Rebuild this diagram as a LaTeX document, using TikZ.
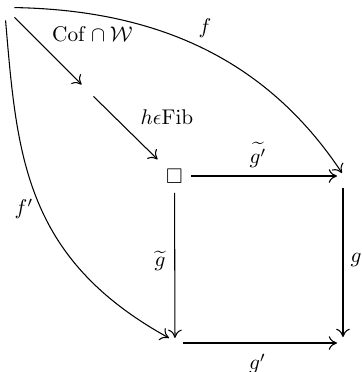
\documentclass[tikz,border=0pt]{standalone}
\usepackage{amsmath,amssymb}
\usetikzlibrary{arrows.meta,calc}
\begin{document}
\begin{tikzpicture}[x=0.47pt,y=-0.47pt,
  arr/.style={line width=0.5pt,-{Computer Modern Rightarrow[length=3.9pt,width=6.4pt]}},
  lbl/.style={inner sep=0pt}]
\useasboundingbox (0,0) rectangle (361,372);
% objects
\node[inner sep=0pt,minimum width=3.76pt,minimum height=5.64pt] (A) at (10,14) {};
\node[inner sep=0pt,minimum size=5.17pt] (M) at (87.5,90.5) {};
\node[inner sep=0pt,minimum size=15.5pt] (S) at (174.5,176) {$\square$};
\coordinate (B) at (343,176);
\coordinate (C) at (175,343);
\coordinate (D) at (343,343);
% diagonal
\draw[arr] (A.-37) -- (M);
\draw[arr] (M) -- (S);
% square
\draw[arr,shorten >=2.8pt] (S) -- (B);
\draw[arr,shorten >=2.4pt] (S) -- (C);
\draw[arr,shorten <=5.6pt,shorten >=2.8pt] (B) -- (D);
\draw[arr,shorten <=3.8pt,shorten >=2.8pt] (C) -- (D);
% curves
\draw[arr] (A.north east) .. controls (154,10) and (265,57) .. ($(B)+(-1,-3)$);
\draw[arr] (A.south west) .. controls (17,155) and (24,258) .. ($(C)+(-6,-5)$);
% labels
\node[lbl] (lcof) at (92.5,34) {$\mathrm{Cof}\cap\mathcal{W}$};
\node[lbl] (lh) at (167,117) {$h\epsilon\mathrm{Fib}$};
\node[lbl] (lf) at (205,28) {$f$};
\node[lbl] (lfp) at (24,209) {$f'$};
\node[lbl] (lgtp) at (258,155) {$\widetilde{g'}$};
\node[lbl] (lgt) at (160,261) {$\widetilde{g}$};
\node[lbl] (lg) at (356,260) {$g$};
\node[lbl] (lgp) at (257.5,364) {$g'$};
\end{tikzpicture}
\end{document}
